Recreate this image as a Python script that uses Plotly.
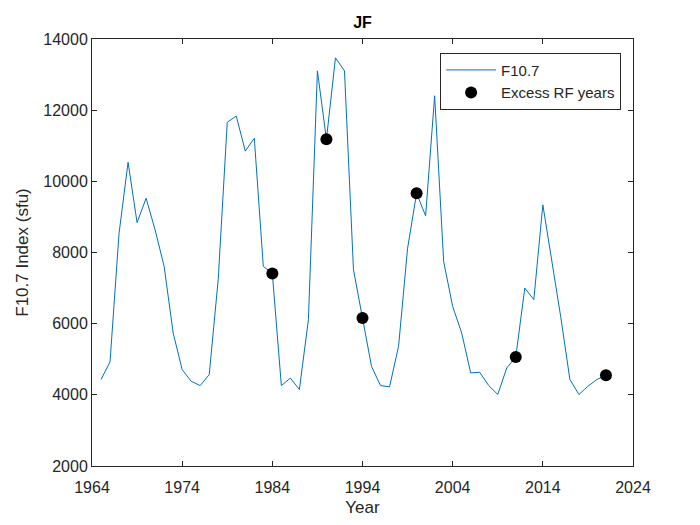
import plotly.graph_objects as go

years = list(range(1965, 2022))
f107 = [4430, 4925, 8540, 10535, 8840, 9525, 8635, 7610, 5740, 4710,
        4380, 4260, 4570, 7250, 11660, 11835, 10850, 11210, 7610, 7410,
        4260, 4470, 4150, 6110, 13105, 11180, 13470, 13105, 7515, 6160,
        4800, 4260, 4225, 5365, 8120, 9665, 9030, 12405, 7750, 6485,
        5740, 4615, 4635, 4260, 4010, 4755, 5065, 7000, 6675, 9340,
        7790, 6170, 4430, 4010, 4240, 4430, 4550]

excess_years = [1984, 1990, 1994, 2000, 2011, 2021]
excess_vals = [7410, 11180, 6160, 9665, 5065, 4550]

x_ticks = [1964, 1974, 1984, 1994, 2004, 2014, 2024]
y_ticks = [2000, 4000, 6000, 8000, 10000, 12000, 14000]

fig = go.Figure()
fig.add_trace(go.Scatter(x=years, y=f107, mode="lines", name="F10.7",
                         line=dict(color="#0072BD", width=1)))
fig.add_trace(go.Scatter(x=excess_years, y=excess_vals, mode="markers",
                         name="Excess RF years",
                         marker=dict(color="black", size=12)))

axis_style = dict(showgrid=False, zeroline=False, showline=True, mirror="ticks",
                  linecolor="#262626", linewidth=1, ticks="inside", ticklen=5,
                  tickcolor="#262626", tickfont=dict(size=16, color="#262626"),
                  automargin=False)

fig.update_xaxes(range=[1964, 2024], tickvals=x_ticks, tickformat="d",
                 ticklabelstandoff=7,
                 title=dict(text="Year", font=dict(size=17, color="#262626"), standoff=10),
                 **axis_style)
fig.update_yaxes(range=[2000, 14000], tickvals=y_ticks, tickformat="d",
                 title=dict(text="F10.7 Index (sfu)", font=dict(size=17, color="#262626"),
                            standoff=10),
                 **axis_style)

# the page body adds an 8px margin, so the figure is a bit smaller than the window
fig.update_layout(
    width=684, height=509,
    margin=dict(l=84, r=59, t=31, b=51),
    paper_bgcolor="white", plot_bgcolor="white",
    font=dict(family="Liberation Sans, Arial", size=16, color="#262626"),
    title=dict(text="<b>JF</b>", x=0.5, xref="paper", y=0.9725, yanchor="middle",
               font=dict(size=16, color="black")),
    legend=dict(x=0.978, y=0.968, xanchor="right", yanchor="top",
                bordercolor="#262626", borderwidth=1, bgcolor="white",
                font=dict(size=15, color="#262626"), tracegroupgap=0,
                itemwidth=50),
    showlegend=True,
)

fig.write_html("out.html")
